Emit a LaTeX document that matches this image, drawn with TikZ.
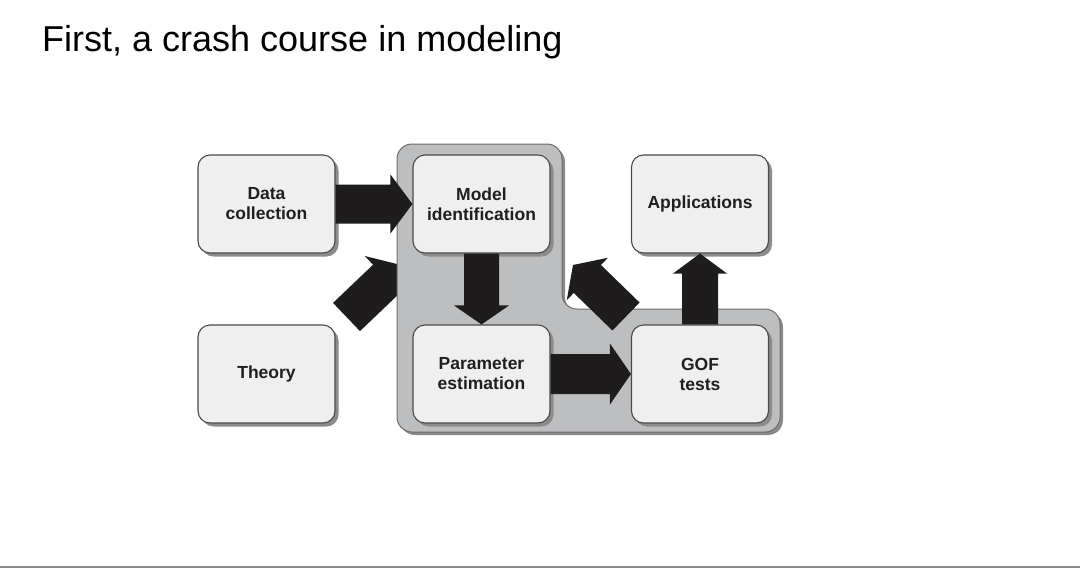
\documentclass[tikz,border=0pt]{standalone}
\usepackage{fontspec}
\setmainfont{Liberation Sans}
\usetikzlibrary{calc,shadows}
\definecolor{regfill}{HTML}{BDBEC0}
\definecolor{regshade}{HTML}{8A8A8A}
\definecolor{boxfill}{HTML}{EFEFEF}
\definecolor{boxline}{HTML}{4A4A4A}
\definecolor{boxshade}{HTML}{8C8C8C}
\definecolor{arrowblack}{HTML}{1E1C1D}
\definecolor{rulegray}{HTML}{8C8C8C}
\newcommand\blockarrow[5]{%
  \path ($(#2)!#5!(#1)$) coordinate (ba-h);
  \fill[arrowblack] ($(#1)!#3!90:(#2)$) -- ($(ba-h)!#3!-90:(#1)$) -- ($(ba-h)!#4!-90:(#1)$) -- (#2) -- ($(ba-h)!#4!90:(#1)$) -- ($(ba-h)!#3!90:(#1)$) -- ($(#1)!#3!-90:(#2)$) -- cycle;}
\tikzset{
  stagebox/.style={draw=boxline, line width=1.1pt, fill=boxfill, rounded corners=12pt,
    minimum width=137pt, minimum height=98pt, align=center, inner sep=0pt,
    font=\fontsize{17.5}{20}\selectfont\bfseries, text=black!88,
    drop shadow={shadow xshift=3.5pt, shadow yshift=-3.5pt, fill=boxshade, opacity=1}},
  region/.style={draw=boxline!80, line width=1pt, fill=regfill, rounded corners=15pt},
}
\begin{document}
\begin{tikzpicture}[x=1pt,y=-1pt]
\useasboundingbox (0,0) rectangle (1080,579);
\fill[white] (0,0) rectangle (1080,579);
% title
\node[anchor=base west, inner sep=0pt, font=\fontsize{36}{40}\selectfont] (title) at (42,51) {First, a crash course in modeling};
% bottom rule
\draw[rulegray, line width=1.5pt] (0,567) -- (1080,567);
% arrow from theory (drawn beneath the region)
\coordinate (t3) at (346.5,317);
\coordinate (h3) at (401,265);
\blockarrow{t3}{h3}{19.5pt}{31.5pt}{20pt}
% grey region with its shadow
\fill[regshade, rounded corners=15pt] (400,300) -- (400,147) -- (565,147) -- (565,312) -- (783,312) -- (783,435) -- (400,435) -- cycle;
\draw[region] (397,300) -- (397,144) -- (562,144) -- (562,309) -- (780,309) -- (780,432) -- (397,432) -- cycle;
% boxes
\node[stagebox] (data) at (266.5,204) {Data\\collection};
\node[stagebox] (model) at (481.5,204) {Model\\identification};
\node[stagebox] (theory) at (266.5,374) {Theory};
\node[stagebox] (param) at (481.5,374) {Parameter\\estimation};
\node[stagebox] (apps) at (700,204) {Applications};
\node[stagebox] (gof) at (700,374) {GOF\\tests};
% arrows
\blockarrow{data.east}{model.west}{19.5pt}{29.5pt}{22pt}
\blockarrow{model.south}{param.north}{17.5pt}{27.5pt}{19pt}
\blockarrow{param.east}{gof.west}{20pt}{30.5pt}{21pt}
\blockarrow{gof.north}{apps.south}{18pt}{27pt}{20pt}
\coordinate (t5) at (626,316.5);
\coordinate (h5) at (573,265);
\blockarrow{t5}{h5}{19.5pt}{29.5pt}{20pt}
\end{tikzpicture}
\end{document}
